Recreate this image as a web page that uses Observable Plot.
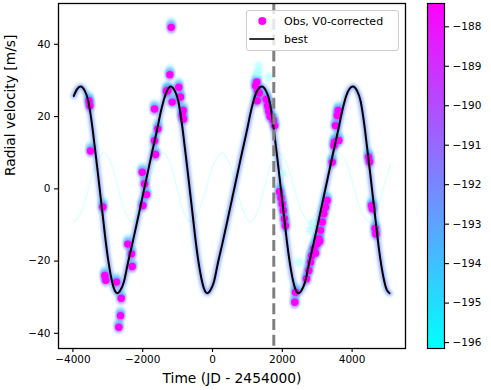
<!DOCTYPE html>
<html><head><meta charset="utf-8">
<script src="https://cdn.jsdelivr.net/npm/d3@7"></script>
<script src="https://cdn.jsdelivr.net/npm/@observablehq/plot@0.6"></script>
<style>
html,body{margin:0;padding:0;background:#fff;}
#wrap{position:relative;width:491px;height:390px;font-family:"DejaVu Sans",sans-serif;overflow:hidden;}
#main{position:absolute;left:0;top:0;}
#cbar{position:absolute;left:420px;top:0;}
#legend{position:absolute;left:246px;top:10px;width:153px;height:41px;box-sizing:border-box;border:1px solid #cccccc;border-radius:3px;background:rgba(255,255,255,0.8);font-size:11px;color:#000;}
.item{position:absolute;left:0;height:16px;display:flex;align-items:center;white-space:nowrap;}
.item svg{flex:none;}
</style></head><body>
<div id="wrap"><div id="main"></div><div id="cbar"></div>
<div id="legend">
 <div class="item" style="top:2px"><svg width="37" height="16"><circle cx="15.3" cy="8" r="4" fill="#ff00ff"/></svg><span>Obs, V0-corrected</span></div>
 <div class="item" style="top:20px"><svg width="37" height="16"><line x1="2.3" x2="27.3" y1="8" y2="8" stroke="#000" stroke-width="1.6"/></svg><span>best</span></div>
</div></div>
<script>
// ---- data ----
const xTicks = [-4000, -2000, 0, 2000, 4000];
const yTicks = [-40, -20, 0, 20, 40];
const cbTicks = [-196, -195, -194, -193, -192, -191, -190, -189, -188];
const xDomain = [-4413, 5530];
const yDomain = [-44.2, 51.3];
const v0Range = [-196.15, -187.41];
const splitTime = 1756;

// best-fit model curve
const bestTime = [-3974, -3880,
  -3782, -3659, -3561, -3495, -3430, -3372, -3303, -3238, -3160, -3086, -3000, -2902, -2808, -2730,
  -2636, -2540, -2430, -2290, -2150, -2010, -1870, -1730, -1590, -1470, -1350,
  -1203, -1080, -982, -916, -851, -793, -724, -659, -581, -507, -421, -323, -229, -151,
  -57, 39, 149, 289, 429, 569, 709, 849, 989, 1109, 1229,
  1410, 1533, 1631, 1697, 1762, 1820, 1889, 1954, 2032, 2106, 2192, 2290, 2384, 2462,
  2556, 2652, 2762, 2902, 3042, 3182, 3322, 3462, 3602, 3722, 3842,
  4020, 4143, 4241, 4307, 4372, 4430, 4499, 4564, 4642, 4716, 4802, 4900, 4994, 5072];
const bestRV = [25.7, 27.6,
  28.3, 27.1, 24.4, 20.7, 16.1, 11.4, 5.9, 0.4, -6.1, -12.5, -19.0, -24.6, -28.0, -28.9,
  -28.0, -25.8, -20.8, -14.9, -8.7, -2.4, 3.9, 10.2, 16.3, 21.8, 26.0,
  28.3, 27.1, 24.4, 20.7, 16.1, 11.4, 5.9, 0.4, -6.1, -12.5, -19.0, -24.6, -28.0, -28.9,
  -28.0, -25.8, -20.8, -14.9, -8.7, -2.4, 3.9, 10.2, 16.3, 21.8, 26.0,
  28.3, 27.1, 24.4, 20.7, 16.1, 11.4, 5.9, 0.4, -6.1, -12.5, -19.0, -24.6, -28.0, -28.9,
  -28.0, -25.8, -20.8, -14.9, -8.7, -2.4, 3.9, 10.2, 16.3, 21.8, 26.0,
  28.3, 27.1, 24.4, 20.7, 16.1, 11.4, 5.9, 0.4, -6.1, -12.5, -19.0, -24.6, -28.0, -28.9];

// faint companion model curve
const compTime = [-3974, -3759, -3545, -3330, -3115, -2911, -2708, -2504, -2301, -2079, -1857, -1635, -1413,
  -1217, -1022, -826, -630, -403, -176, 51, 278, 481, 684, 886, 1089, 1290, 1490, 1691, 1891,
  2113, 2335, 2557, 2779, 2989, 3199, 3409, 3619, 3834, 4049, 4264, 4479, 4690, 4900, 5100];
const compRV = [-9.2, -6.4, 0.4, 7.2, 10.0, 7.2, 0.4, -6.4, -9.2, -6.4, 0.4, 7.2, 10.0,
  7.2, 0.4, -6.4, -9.2, -6.4, 0.4, 7.2, 10.0, 7.2, 0.4, -6.4, -9.2, -6.4, 0.4, 7.2, 10.0,
  7.2, 0.4, -6.4, -9.2, -6.4, 0.4, 7.2, 10.0, 7.2, 0.4, -6.4, -9.2, -6.4, 0.4, 6.6];

// observations (V0-corrected)
const obsTime = [-3539, -3516, -3496, -3143, -3086, -3060, -2751, -2616, -2636, -2685, -2427, -2321, -2301,
  -2014, -1948, -1997, -1891,
  -1662, -1567, -1662, -1633, -1183, -1223, -1318, -1281, -1155, -966, -917, -868, -840, -830,
  1232, 1270, 1300, 1340, 1281, 1540, 1580, 1610, 1650, 1740, 1780,
  1920, 1960, 1997, 2030, 2060, 2090, 2378, 2358,
  2693, 2760, 2808, 2837, 2903, 2950, 3000, 3046, 3070, 3095, 3143, 3189, 3238, 3286,
  3430, 3476, 3500, 3524, 3573, 3602, 3619,
  4470, 4500, 4560, 4580, 4660, 4680];
const obsRV = [24.4, 23.0, 10.5, -5.0, -24.0, -25.3, -25.8, -30.3, -35.1, -38.3, -15.3, -18.0, -21.5,
  4.6, 1.4, -4.6, -1.6,
  22.1, 16.6, 13.3, 9.5, 44.7, 31.6, 27.0, 27.2, 24.0, 28.1, 25.4, 20.3, 21.7, 19.3,
  28.5, 29.6, 27.0, 26.5, 24.4, 24.8, 23.0, 21.5, 20.0, 19.0, 17.5,
  -0.8, -2.5, -4.2, -6.0, -8.3, -10.2, -28.6, -31.4,
  -24.9, -22.6, -20.3, -18.5, -16.6, -17.8, -15.2, -13.8, -14.5, -11.5, -9.2, -6.9, -5.1, -3.2,
  7.4, 12.0, 13.0, 17.5, 20.3, 21.7, 13.4,
  8.8, 7.5, -4.6, -5.5, -11.0, -12.5];

// detached light samples
const ghostTime = [1281, 1327, 1310, 1613, 1997, 2473, 2808, 2857];
const ghostRV = [31.8, 34.1, 32.5, 30.9, 4.2, -20.3, -11.5, -9.7];

// V0 sample layers drawn as halos around each observation
const haloV0 = [-195.0, -193.6, -192.4, -191.3];
const haloShift = [-5.5, -3.2, -1, 1.5];
const haloAlpha = [0.2, 0.4, 0.6, 0.55];

// ---- build ----
const best = bestTime.map((t, i) => ({t, v: bestRV[i]}));
const comp = compTime.map((t, i) => ({t, v: compRV[i]}));
const obs = obsTime.map((t, i) => ({t, v: obsRV[i]}));
const ghost = ghostTime.map((t, i) => ({t, v: ghostRV[i]}));
const fmt = d3.format("d");
const colorOpts = {type: "linear", domain: v0Range, range: ["#00ffff", "#ff00ff"], interpolate: "rgb"};
const baseStyle = {fontFamily: "DejaVu Sans, sans-serif", fontSize: "10.5px", color: "black", background: "white", overflow: "visible"};

const haloMarks = haloV0.map((v0, k) => Plot.dot(obs, {
  x: "t", y: "v", r: 4.8, dy: haloShift[k], fill: () => v0, fillOpacity: haloAlpha[k], stroke: "none", ariaDescription: "soft"
}));

const main = Plot.plot({
  width: 420, height: 390,
  marginLeft: 58, marginRight: 15, marginTop: 3, marginBottom: 42,
  x: {domain: xDomain},
  y: {domain: yDomain},
  color: colorOpts,
  style: baseStyle,
  marks: [
    Plot.line(comp, {x: "t", y: "v", curve: "catmull-rom", stroke: "#00ffff", strokeOpacity: 0.13, strokeWidth: 1.5}),
    Plot.line(best, {x: "t", y: "v", curve: "monotone-x", stroke: "#40c8ff", strokeOpacity: 0.12, strokeWidth: 9, ariaDescription: "soft"}),
    Plot.line(best, {x: "t", y: "v", curve: "monotone-x", stroke: "#6a7cff", strokeOpacity: 0.5, strokeWidth: 5.5, ariaDescription: "soft"}),
    ...haloMarks,
    Plot.dot(ghost, {x: "t", y: "v", r: 4.5, fill: "#a8ffff", fillOpacity: 0.6, stroke: "none", ariaDescription: "soft"}),
    Plot.dot(obs, {x: "t", y: "v", r: 3.7, fill: "#ff00ff", stroke: "none"}),
    Plot.line(best, {x: "t", y: "v", curve: "monotone-x", stroke: "black", strokeWidth: 2}),
    Plot.ruleX([splitTime], {stroke: "#808080", strokeWidth: 3, strokeDasharray: "11,4.8"}),
    Plot.frame({stroke: "black", strokeWidth: 1.3}),
    Plot.axisX({ticks: xTicks, tickFormat: fmt, tickSize: 4, tickPadding: 3, label: null, strokeWidth: 1.1}),
    Plot.axisY({ticks: yTicks, tickFormat: fmt, tickSize: 4, tickPadding: 4, label: null, strokeWidth: 1.1}),
    Plot.text(["Time (JD - 2454000)"], {text: d => d, frameAnchor: "bottom", dy: 34, fontSize: 13.8}),
    Plot.text(["Radial velocity [m/s]"], {text: d => d, frameAnchor: "left", dx: -48, rotate: -90, fontSize: 13.8})
  ]
});

// soft blur for the sample clouds
(function () {
  const ns = "http://www.w3.org/2000/svg";
  const defs = document.createElementNS(ns, "defs");
  const filter = document.createElementNS(ns, "filter");
  filter.setAttribute("id", "soft");
  filter.setAttribute("x", "-20%"); filter.setAttribute("y", "-20%");
  filter.setAttribute("width", "140%"); filter.setAttribute("height", "140%");
  const blur = document.createElementNS(ns, "feGaussianBlur");
  blur.setAttribute("stdDeviation", "1.0");
  filter.appendChild(blur); defs.appendChild(filter);
  main.insertBefore(defs, main.firstChild);
  main.querySelectorAll('g[aria-description="soft"]').forEach(g => g.setAttribute("filter", "url(#soft)"));
})();
document.getElementById("main").appendChild(main);

const cbSteps = d3.range(v0Range[0], v0Range[1], 0.05);
const cbar = Plot.plot({
  width: 71, height: 390,
  marginLeft: 7, marginRight: 47, marginTop: 3, marginBottom: 42,
  x: {domain: [0, 1], axis: null},
  y: {domain: v0Range},
  color: colorOpts,
  style: baseStyle,
  marks: [
    Plot.rect(cbSteps, {x1: () => 0, x2: () => 1, y1: d => d, y2: d => Math.min(d + 0.07, v0Range[1]), fill: d => d + 0.025, shapeRendering: "crispEdges"}),
    Plot.frame({stroke: "black", strokeWidth: 1.2}),
    Plot.axisY({anchor: "right", ticks: cbTicks, tickFormat: fmt, tickSize: 4, tickPadding: 4, label: null, strokeWidth: 1.1})
  ]
});
document.getElementById("cbar").appendChild(cbar);
</script>
</body></html>
